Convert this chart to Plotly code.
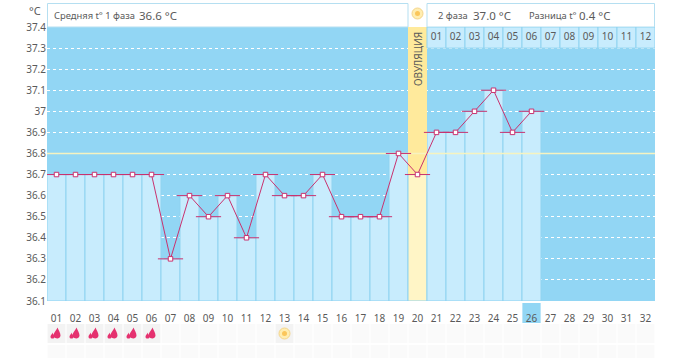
import plotly.graph_objects as go

days = list(range(1, 33))
day_labels = [f"{d:02d}" for d in days]
temps = [36.7, 36.7, 36.7, 36.7, 36.7, 36.7, 36.3, 36.6, 36.5, 36.6, 36.4, 36.7, 36.6,
         36.6, 36.7, 36.5, 36.5, 36.5, 36.8, 36.7, 36.9, 36.9, 37.0, 37.1, 36.9, 37.0]
y_ticks = [37.4, 37.3, 37.2, 37.1, 37.0, 36.9, 36.8, 36.7, 36.6, 36.5, 36.4, 36.3, 36.2, 36.1]
y_labels = ["37.4", "37.3", "37.2", "37.1", "37", "36.9", "36.8", "36.7", "36.6", "36.5", "36.4", "36.3", "36.2", "36.1"]
month_days = list(range(21, 33))
month_labels = [f"{d:02d}" for d in range(1, 13)]
period_days = [1, 2, 3, 4, 5, 6]
sun_days = [13]
ovulation_day = 20
today = 26
cover_line = 36.8
y_min, y_max = 36.1, 37.4

W, H = 693, 358
L, R = 47, 655
TOP, BOT = 27, 301
GREY = "#5a5a5a"
FONT = "Noto Sans"
SKY = "#92D6F4"
PALE = "#C8ECFD"
SEP = "#8FD3F0"
RED = "#C9326F"


def px(x):
    return (x - L) / (R - L)


def py(y):
    return (H - y) / H


fig = go.Figure()

# column bars
bar_days = days[:len(temps)]
fig.add_bar(x=bar_days, y=[round(t - y_min, 2) for t in temps], base=y_min, width=1,
            marker=dict(color=["#FFF5C6" if d == ovulation_day else PALE for d in bar_days],
                        line=dict(color=SEP, width=1)), hoverinfo="skip")
# ovulation column above the reading
ov_t = temps[ovulation_day - 1]
fig.add_bar(x=[ovulation_day], y=[round(y_max - ov_t, 2)], base=ov_t, width=1,
            marker=dict(color="#FFEA9C", line=dict(width=0)), hoverinfo="skip")
# month header row
fig.add_bar(x=month_days, y=[0.1] * len(month_days), base=37.3, width=1,
            marker=dict(color=PALE, line=dict(color=SEP, width=1)), hoverinfo="skip")
fig.add_scatter(x=month_days, y=[37.35] * len(month_days), mode="text", text=month_labels,
                textfont=dict(family=FONT, size=10, color=GREY), hoverinfo="skip")
# cover line
fig.add_scatter(x=[0.5, 32.5], y=[cover_line, cover_line], mode="lines",
                line=dict(color="#F6F3C0", width=1.5), hoverinfo="skip")
# caps
fig.add_scatter(x=bar_days, y=temps, mode="markers",
                marker=dict(symbol="line-ew", size=18, line=dict(color=RED, width=1)), hoverinfo="skip")
# line and points
fig.add_scatter(x=bar_days, y=temps, mode="lines+markers", line=dict(color=RED, width=1),
                marker=dict(symbol="square", size=4.5, color="white", line=dict(color=RED, width=1)),
                hoverinfo="skip")

# bottom strip (y2): icon rows
fig.add_bar(x=days, y=[19] * 32, base=23, width=0.94, yaxis="y2",
            marker=dict(color=["#F3F3F3" if (d in period_days or d in sun_days) else "#FAFAFA" for d in days],
                        line=dict(width=0)), hoverinfo="skip")
fig.add_bar(x=days, y=[15] * 32, base=44, width=0.94, yaxis="y2",
            marker=dict(color="#FAFAFA", line=dict(width=0)), hoverinfo="skip")
fig.add_scatter(x=sun_days, y=[32.5] * len(sun_days), yaxis="y2", mode="markers",
                marker=dict(size=11, color="#FFEDB0", line=dict(color="#F4D58A", width=1)), hoverinfo="skip")
fig.add_scatter(x=sun_days, y=[32.5] * len(sun_days), yaxis="y2", mode="markers",
                marker=dict(size=5, color="#FBC65A"), hoverinfo="skip")

# header sun (y3)
fig.add_scatter(x=[ovulation_day], y=[0.5], yaxis="y3", mode="markers",
                marker=dict(size=11, color="#FFEDB0", line=dict(color="#F4D58A", width=1)), hoverinfo="skip")
fig.add_scatter(x=[ovulation_day], y=[0.5], yaxis="y3", mode="markers",
                marker=dict(size=5, color="#FBC65A"), hoverinfo="skip")

shapes = []
# blue chart field
shapes.append(dict(type="rect", xref="x domain", yref="y domain", x0=0, x1=1, y0=0, y1=1,
                   fillcolor=SKY, line=dict(width=0), layer="below"))
# today's cell behind its tick label
shapes.append(dict(type="rect", xref="x", yref="paper", x0=today - 0.48, x1=today + 0.48, y0=py(323), y1=py(303),
                   fillcolor=SKY, line=dict(width=0), layer="below"))
# header panels
for x0, x1 in [(47.5, 408), (427, 654.5)]:
    shapes.append(dict(type="rect", xref="paper", yref="paper", x0=px(x0), x1=px(x1), y0=py(27), y1=py(3.5),
                       fillcolor="white", line=dict(color="#B5DFF1", width=1), layer="below"))
# period drops
big = "M 1 6 C 2 3 4 1 4 -2 C 4 -4 2 -5 1 -5 C -1 -5 -3 -4 -3 -2 C -3 1 0 3 1 6 Z"
small = "M -4 1 C -4 0 -2 -2 -2 -3 C -2 -5 -3 -5 -4 -5 C -5 -5 -6 -5 -6 -3 C -6 -2 -4 0 -4 1 Z"
for d in period_days:
    for path in (big, small):
        shapes.append(dict(type="path", xref="x", yref="y2", xsizemode="pixel", ysizemode="pixel",
                           xanchor=d, yanchor=32.5, path=path, fillcolor="#E5316F", line=dict(width=0)))

ann = []


def note(text, x, y, size=10, anchor="left", angle=0):
    ann.append(dict(text=text, xref="paper", yref="paper", x=px(x), y=py(y), showarrow=False, xanchor=anchor,
                    yanchor="middle", textangle=angle, font=dict(family=FONT, size=size, color=GREY)))


note("°C", 35, 10, 11, "center")
note("Средняя t° 1 фаза", 52, 16, 9.4)
note("36.6 °C", 137, 15.5, 11.5)
note("2 фаза", 436, 16, 9.4)
note("37.0 °C", 471, 15.5, 11.5)
note("Разница t°", 527, 16, 9.4)
note("0.4 °C", 577, 15.5, 11.5)
note("ОВУЛЯЦИЯ", 418, 59, 10, "center", -90)

fig.update_layout(
    width=W, height=H, autosize=False, showlegend=False, barmode="overlay",
    margin=dict(l=L, r=W - R, t=0, b=0, pad=0),
    paper_bgcolor="white", plot_bgcolor="rgba(0,0,0,0)",
    xaxis=dict(range=[0.5, 32.5], tickmode="array", tickvals=days, ticktext=day_labels, showgrid=False,
               zeroline=False, ticks="outside", ticklen=8, tickcolor="rgba(0,0,0,0)", showline=False,
               tickfont=dict(family=FONT, size=10, color=GREY), tickangle=0, anchor="y", fixedrange=True,
               automargin=False),
    yaxis=dict(domain=[py(BOT), py(TOP)], range=[y_min, y_max], tickmode="array", tickvals=y_ticks, ticktext=y_labels,
               showgrid=True, gridcolor="white", griddash="dot", gridwidth=1, zeroline=False, ticks="",
               tickfont=dict(family=FONT, size=10, color=GREY), fixedrange=True, automargin=False),
    yaxis2=dict(domain=[0, py(BOT)], range=[57, 0], visible=False, fixedrange=True, anchor="x", automargin=False),
    yaxis3=dict(domain=[py(TOP), 1], range=[0, 1], visible=False, fixedrange=True, anchor="x", automargin=False),
    shapes=shapes, annotations=ann,
)
fig.write_html("out.html", config={"displayModeBar": False},
               post_script="document.body.style.margin='0';")
